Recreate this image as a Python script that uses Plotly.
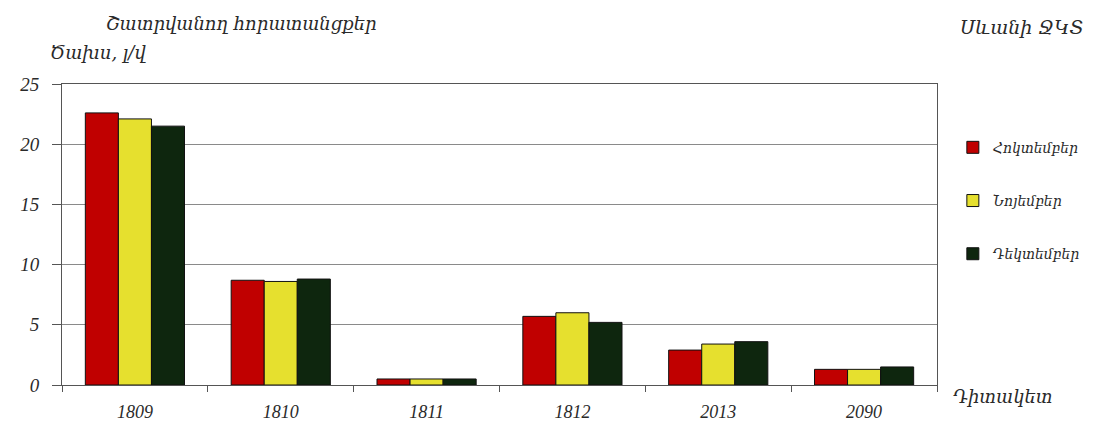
import plotly.graph_objects as go

categories = ["1809", "1810", "1811", "1812", "2013", "2090"]
october = [22.6, 8.7, 0.5, 5.7, 2.9, 1.3]
november = [22.1, 8.6, 0.5, 6.0, 3.4, 1.3]
december = [21.5, 8.8, 0.5, 5.2, 3.6, 1.5]
series_names = ["Հոկտեմբեր", "Նոյեմբեր", "Դեկտեմբեր"]
series_colors = ["#C00000", "#E6E02E", "#0E260E"]
y_ticks = [0, 5, 10, 15, 20, 25]

serif = "Liberation Serif"
arm = "DejaVu Serif"
txt_color = "#2a2a2a"

fig = go.Figure()
for i, (name, vals, col) in enumerate(zip(series_names, [october, november, december], series_colors)):
    fig.add_trace(go.Bar(
        x=categories, y=vals, name=name,
        marker=dict(color=col, line=dict(color="#111111", width=1)),
        legendgroup=f"g{i}",
    ))

# page body adds an 8px offset; work in screen pixels and convert
OFF = 8
W, H = 1098 - OFF, 434 - OFF
L, R, T, B = 54 - OFF, 1098 - 937, 84 - OFF, 434 - 393
pw, ph = W - L - R, H - T - B

def px(x):
    return (x - OFF - L) / pw

def py(y):
    return (H - B - (y - OFF)) / ph

fig.update_layout(
    width=W, height=H,
    margin=dict(l=L, r=R, t=T, b=B),
    plot_bgcolor="white", paper_bgcolor="white",
    barmode="group", bargap=0.32, bargroupgap=0,
    showlegend=True,
    legend=dict(
        x=px(953), y=py(133), xanchor="left", yanchor="top",
        font=dict(family=arm, size=14, color=txt_color, style="italic"),
        tracegroupgap=32, bgcolor="rgba(0,0,0,0)",
        itemwidth=30,
    ),
    xaxis=dict(
        type="category", showgrid=False,
        showline=True, linecolor="#555555", linewidth=1, mirror=True,
        ticks="outside", tickson="boundaries", ticklen=6, tickcolor="#555555",
        ticklabelstandoff=10,
        tickfont=dict(family=serif, size=18, color=txt_color, style="italic"),
    ),
    yaxis=dict(
        range=[0, 25], tickvals=y_ticks,
        showgrid=True, gridcolor="#8a8a8a", gridwidth=1,
        showline=True, linecolor="#555555", linewidth=1, mirror=True,
        ticks="outside", ticklen=9, tickcolor="#555555",
        ticklabelstandoff=9,
        tickfont=dict(family=serif, size=19, color=txt_color, style="italic"),
        zeroline=False,
    ),
    annotations=[
        dict(text="Շատրվանող հորատանցքեր", x=px(235), y=py(22), xref="paper", yref="paper",
             showarrow=False, xanchor="center", yanchor="middle",
             font=dict(family=arm, size=18, color=txt_color, style="italic")),
        dict(text="Ծախս, լ/վ", x=px(90), y=py(52), xref="paper", yref="paper",
             showarrow=False, xanchor="center", yanchor="middle",
             font=dict(family=arm, size=18, color=txt_color, style="italic")),
        dict(text="Սևանի ՋԿՏ", x=px(1022), y=py(25), xref="paper", yref="paper",
             showarrow=False, xanchor="center", yanchor="middle",
             font=dict(family=arm, size=19, color=txt_color, style="italic")),
        dict(text="Դիտակետ", x=px(1003), y=py(405), xref="paper", yref="paper",
             showarrow=False, xanchor="center", yanchor="middle",
             font=dict(family=arm, size=18, color=txt_color, style="italic")),
    ],
)

fig.write_html("out.html")
